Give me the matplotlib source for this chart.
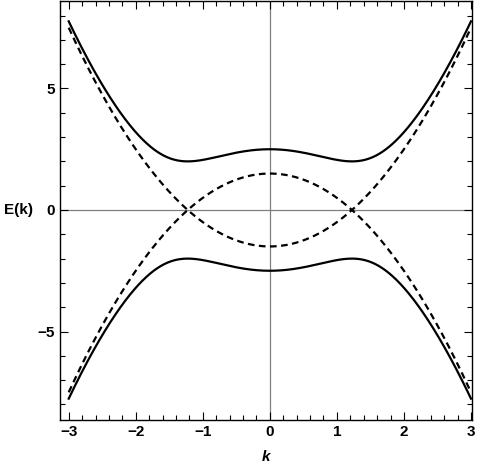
import numpy as np
import matplotlib.pyplot as plt
from matplotlib.ticker import MultipleLocator

# parametros: E0 = mu em k=0, gap minimo = delta
mu = 1.5      # cruzamento das bandas tracejadas em k = sqrt(mu)
delta = 2.0   # meia abertura do gap (minimo da banda solida)
k_min, k_max = -3.0, 3.0

k = np.linspace(k_min, k_max, 600)
banda_livre = k**2 - mu
banda_gap = np.sqrt(banda_livre**2 + delta**2)

plt.rcParams['font.family'] = ['Liberation Sans', 'DejaVu Sans']
plt.rcParams['font.weight'] = 'bold'

fig = plt.figure(figsize=(4.8, 4.68), dpi=100)
ax = fig.add_axes([0.125, 0.1026, 0.8583, 0.8953])

ax.axhline(0, color='gray', lw=0.9, zorder=1)
ax.axvline(0, color='gray', lw=0.9, zorder=1)

ax.plot(k, banda_gap, color='black', lw=1.6)
ax.plot(k, -banda_gap, color='black', lw=1.6)
ax.plot(k, banda_livre, color='black', lw=1.6, ls=(0, (3, 2)))
ax.plot(k, -banda_livre, color='black', lw=1.6, ls=(0, (3, 2)))

ax.set_xlim(-3.13, 3.015)
ax.set_ylim(-8.64, 8.6)

ax.xaxis.set_major_locator(MultipleLocator(1))
ax.xaxis.set_minor_locator(MultipleLocator(0.2))
ax.yaxis.set_major_locator(MultipleLocator(5))
ax.yaxis.set_minor_locator(MultipleLocator(1))
ax.tick_params(which='both', direction='in', top=True, right=True,
               labelsize=11, width=0.8)
ax.tick_params(which='major', length=6)
ax.tick_params(which='minor', length=3.5)
for s in ax.spines.values():
    s.set_linewidth(1.0)

ax.set_xlabel('k', fontsize=11, fontstyle='italic', fontweight='bold', labelpad=8)
ax.set_ylabel('E(k)', fontsize=11, fontweight='bold', rotation=0, labelpad=14, va='center')

fig.savefig('out.png', dpi=100)
